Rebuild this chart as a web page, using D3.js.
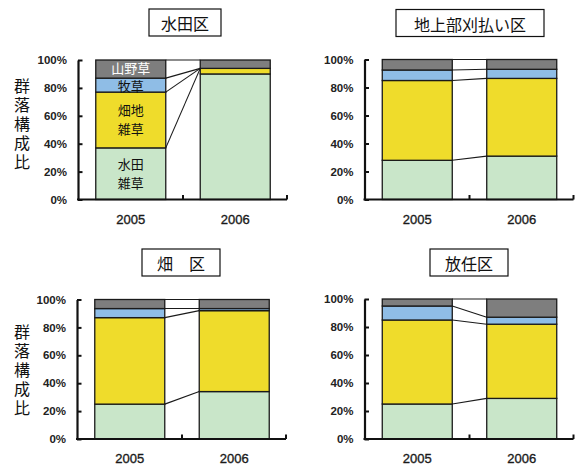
<!DOCTYPE html>
<html><head><meta charset="utf-8">
<script src="https://cdn.jsdelivr.net/npm/d3@7"></script>
<style>
html,body{margin:0;padding:0;background:#fff;}
svg{display:block;}
</style></head>
<body>
<svg id="c" width="576" height="469"></svg>
<script>
// ---- data ----
const years = ["2005", "2006"];
const seriesNames = ["水田雑草", "畑地雑草", "牧草", "山野草"];
const segLabels = [["水田", "雑草"], ["畑地", "雑草"], ["牧草"], ["山野草"]];
const seriesColors = ["#c9e6c9", "#efdc2b", "#8fbde6", "#7e7e7e"];
const panelTitles = ["水田区", "地上部刈払い区", "畑　区", "放任区"];
const yTitle = "群落構成比";
const yTicks = [0, 20, 40, 60, 80, 100];

// shares (%) per year: [水田雑草, 畑地雑草, 牧草, 山野草]
const paddy2005 = [37, 40, 10, 13];
const paddy2006 = [90, 4, 0, 6];
const mowed2005 = [28, 57, 7.5, 7.5];
const mowed2006 = [31, 55.5, 6.5, 7];
const field2005 = [25, 62, 6.5, 6.5];
const field2006 = [34, 58, 1.5, 6.5];
const aband2005 = [25, 60, 10, 5];
const aband2006 = [29, 53, 5, 13];

// connecting series lines: [value at 2005, value at 2006]
const paddyLinks = [[37, 94], [77, 94], [87, 94], [100, 100]];
const mowedLinks = [[28, 31], [85, 86.5], [92.5, 93], [100, 100]];
const fieldLinks = [[25, 34], [87, 92], [93.5, 93.5], [100, 100]];
const abandLinks = [[25, 29], [85, 82], [95, 87], [100, 100]];

const panelData = [
  {title: panelTitles[0], vals: [paddy2005, paddy2006], links: paddyLinks, labels: true},
  {title: panelTitles[1], vals: [mowed2005, mowed2006], links: mowedLinks, labels: false},
  {title: panelTitles[2], vals: [field2005, field2006], links: fieldLinks, labels: false},
  {title: panelTitles[3], vals: [aband2005, aband2006], links: abandLinks, labels: false}
];

// ---- layout ----
const layout = [
  {ax: 78,    y0: 199.5, y1: 60,   tx: 185, tw: 72,  ty: 9,   yT: {x: 22, y: 78}},
  {ax: 364.5, y0: 199.5, y1: 59.5, tx: 470, tw: 148, ty: 9.5},
  {ax: 77,    y0: 439,   y1: 299.5,tx: 181, tw: 78,  ty: 249, yT: {x: 22, y: 324}},
  {ax: 364.5, y0: 439,   y1: 299,  tx: 469, tw: 78,  ty: 249}
];
const labelNudge = [0, 0, 1, -1];   // px nudges for single-line labels
const plotW = 210;
const JP = "'Noto Sans CJK JP','Noto Sans CJK SC',sans-serif";
const LAT = "'Liberation Sans',Arial,sans-serif";

const svg = d3.select("#c");

panelData.forEach((pd, i) => {
  const L = layout[i];
  const g = svg.append("g");
  const x = d3.scaleBand().domain(years).range([L.ax, L.ax + plotW])
    .paddingInner(0.33).paddingOuter(0.17);
  const y = d3.scaleLinear().domain([0, 100]).range([L.y0, L.y1]);

  // title box
  g.append("rect").attr("x", L.tx - L.tw / 2).attr("y", L.ty)
    .attr("width", L.tw).attr("height", 27)
    .attr("fill", "#fff").attr("stroke", "#111").attr("stroke-width", 1.2);
  g.append("text").attr("x", L.tx).attr("y", L.ty + 14)
    .attr("text-anchor", "middle").attr("dominant-baseline", "central")
    .style("font-family", JP).style("font-size", "16px").attr("fill", "#111")
    .text(pd.title);

  // stacked bars
  years.forEach((yr, yi) => {
    const v = pd.vals[yi];
    let cum = 0;
    v.forEach((val, si) => {
      const lo = cum, hi = cum + val;
      cum = hi;
      if (val <= 0) return;
      g.append("rect").attr("x", x(yr)).attr("width", x.bandwidth())
        .attr("y", y(hi)).attr("height", y(lo) - y(hi))
        .attr("fill", seriesColors[si]).attr("stroke", "#1a1a1a").attr("stroke-width", 1.3);
      if (pd.labels && yi === 0) {
        const lines = segLabels[si];
        const cy = y((lo + hi) / 2) + labelNudge[si];
        const fs = 13;
        const lh = 19;
        const cx = x(yr) + x.bandwidth() / 2;
        const t = g.append("text").attr("x", cx).attr("y", cy)
          .attr("text-anchor", "middle")
          .style("font-family", JP).style("font-size", fs + "px")
          .attr("fill", si === 3 ? "#fff" : "#111");
        lines.forEach((s, li) => {
          t.append("tspan").attr("x", cx)
            .attr("y", cy + (li - (lines.length - 1) / 2) * lh + fs * 0.36)
            .text(s);
        });
      }
    });
  });

  // series lines
  pd.links.forEach(l => {
    g.append("line")
      .attr("x1", x(years[0]) + x.bandwidth()).attr("x2", x(years[1]))
      .attr("y1", y(l[0])).attr("y2", y(l[1]))
      .attr("stroke", "#1a1a1a").attr("stroke-width", 1.1);
  });

  // y axis
  const yAxis = d3.axisLeft(y).tickValues(yTicks).tickFormat(d => d + "%")
    .tickSizeInner(-4.5).tickSizeOuter(0).tickPadding(11);
  const ya = g.append("g").attr("transform", `translate(${L.ax},0)`).call(yAxis);
  ya.select(".domain").attr("stroke", "#111").attr("stroke-width", 2.2);
  ya.selectAll(".tick line").attr("stroke", "#111").attr("stroke-width", 2);
  ya.selectAll(".tick text").style("font-family", LAT).style("font-size", "11.5px")
    .style("font-weight", "bold").attr("fill", "#222");

  // x axis
  const xAxis = d3.axisBottom(x).tickSize(0).tickPadding(15);
  const xa = g.append("g").attr("transform", `translate(0,${L.y0})`).call(xAxis);
  xa.select(".domain").remove();
  xa.selectAll(".tick text").style("font-family", LAT).style("font-size", "13px")
    .attr("fill", "#1a1a1a").attr("stroke", "#1a1a1a").attr("stroke-width", 0.35);
  g.append("line").attr("x1", L.ax - 1).attr("x2", L.ax + plotW - 1)
    .attr("y1", L.y0).attr("y2", L.y0).attr("stroke", "#111").attr("stroke-width", 2.2);
  // category boundary ticks (inward)
  const step = x.step();
  const bounds = [x(years[0]) + x.bandwidth() + (step - x.bandwidth()) / 2, L.ax + plotW - 1];
  bounds.forEach(bx => {
    g.append("line").attr("x1", bx).attr("x2", bx).attr("y1", L.y0).attr("y2", L.y0 - 4.5)
      .attr("stroke", "#111").attr("stroke-width", 2);
  });

  // y-axis title (vertical text)
  if (L.yT) {
    g.append("text").attr("x", L.yT.x).attr("y", L.yT.y)
      .attr("text-anchor", "start")
      .style("writing-mode", "vertical-rl")
      .style("letter-spacing", "3px")
      .style("font-family", JP).style("font-size", "16px").attr("fill", "#111")
      .text(yTitle);
  }
});
</script>
</body></html>
